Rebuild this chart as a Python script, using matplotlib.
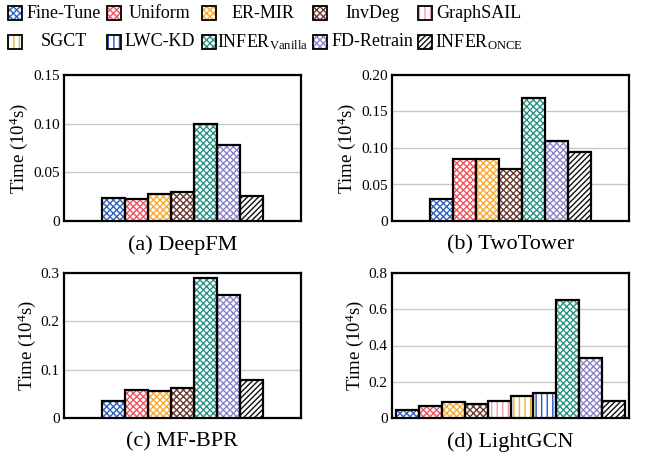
import matplotlib
matplotlib.use("Agg")
import matplotlib.pyplot as plt
from matplotlib.patches import Rectangle
import numpy as np

plt.rcParams['font.family'] = ['Liberation Serif', 'DejaVu Serif']
plt.rcParams['mathtext.fontset'] = 'custom'
plt.rcParams['mathtext.rm'] = 'Liberation Serif'
plt.rcParams['mathtext.it'] = 'Liberation Serif:italic'
plt.rcParams['hatch.linewidth'] = 1.0

methods = ['Fine-Tune', 'Uniform', 'ER-MIR', 'InvDeg', 'GraphSAIL',
           'SGCT', 'LWC-KD', 'INFER$_{\\rm Vanilla}$', 'FD-Retrain', 'INFER$_{\\rm ONCE}$']
colors = ['#2f63c0', '#f2545f', '#fba92e', '#6a3a2e', '#f0a0a8',
          '#e3b440', '#2a55c0', '#2a9385', '#8c86c8', '#111111']
hatches = ['xxxxx', 'xxxxx', 'xxxxx', 'xxxxx', '|||', '|||', '|||',
           'xxxxx', 'xxxxx', '//////']

# panels a-c: methods without GraphSAIL / SGCT / LWC-KD
sub_methods = [0, 1, 2, 3, 7, 8, 9]
deepfm = [0.024, 0.0223, 0.028, 0.030, 0.100, 0.0777, 0.026]
twotower = [0.0306, 0.0854, 0.0854, 0.0708, 0.169, 0.109, 0.095]
mfbpr = [0.036, 0.058, 0.055, 0.0625, 0.289, 0.254, 0.079]
lightgcn = [0.042, 0.068, 0.088, 0.075, 0.092, 0.121, 0.136, 0.649, 0.329, 0.094]

panels = [
    ('(a) DeepFM', sub_methods, deepfm, [0, 0.05, 0.10, 0.15], ['0', '0.05', '0.10', '0.15']),
    ('(b) TwoTower', sub_methods, twotower, [0, 0.05, 0.10, 0.15, 0.20], ['0', '0.05', '0.10', '0.15', '0.20']),
    ('(c) MF-BPR', sub_methods, mfbpr, [0, 0.1, 0.2, 0.3], ['0', '0.1', '0.2', '0.3']),
    ('(d) LightGCN', list(range(10)), lightgcn, [0, 0.2, 0.4, 0.6, 0.8], ['0', '0.2', '0.4', '0.6', '0.8']),
]

W, H = 648, 458
fig = plt.figure(figsize=(W / 100, H / 100), dpi=100)

# axes boxes in pixels (left, top, right, bottom)
boxes = [(64, 75, 301, 221), (392, 75, 629, 221), (64, 273, 301, 418), (392, 273, 629, 418)]

for (title, idxs, vals, yt, ytl), (l, t, r, b) in zip(panels, boxes):
    ax = fig.add_axes([l / W, 1 - b / H, (r - l) / W, (b - t) / H])
    n = len(idxs)
    x = np.arange(n)
    for xi, mi, v in zip(x, idxs, vals):
        ax.bar(xi, v, width=1.0, facecolor='white', edgecolor=colors[mi],
               hatch=hatches[mi], linewidth=0, zorder=3)
        ax.bar(xi, v, width=1.0, facecolor='none', edgecolor='black',
               linewidth=1.6, zorder=4)
    slot = 22.9
    width_slots = (r - l) / slot
    extra = (width_slots - n) / 2
    ax.set_xlim(-0.5 - extra, n - 0.5 + extra)
    ax.set_ylim(yt[0], yt[-1])
    ax.set_yticks(yt)
    ax.set_yticklabels(ytl, fontsize=11)
    ax.set_xticks([])
    ax.tick_params(axis='y', length=0, pad=3)
    ax.yaxis.grid(True, color='#c8c8c8', linewidth=1.0, zorder=0)
    ax.set_axisbelow(True)
    for s in ax.spines.values():
        s.set_linewidth(1.6)
    ax.set_ylabel('Time (10$^4$s)', fontsize=13.5, labelpad=2)
    ax.text(0.5, -0.1, title, transform=ax.transAxes, ha='center', va='top', fontsize=16)

# legend (manual)
box_x = [8, 107, 202, 313, 418]
text_c = [64, 160, 263, 372, 479]
row_y = [13, 42]
bs = 14
for k in range(10):
    row = k // 5
    col = k % 5
    bx = box_x[col]
    by = row_y[row]
    rx = bx / W
    ry = 1 - (by + bs / 2) / H
    rw = bs / W
    rh = bs / H
    fig.add_artist(Rectangle((rx, ry), rw, rh, transform=fig.transFigure,
                             facecolor='white', edgecolor=colors[k], hatch=hatches[k], linewidth=0))
    fig.add_artist(Rectangle((rx, ry), rw, rh, transform=fig.transFigure,
                             facecolor='none', edgecolor='black', linewidth=1.3))
    fig.text(text_c[col] / W, 1 - by / H, methods[k], ha='center', va='center', fontsize=13)

fig.savefig('out.png', dpi=100)
